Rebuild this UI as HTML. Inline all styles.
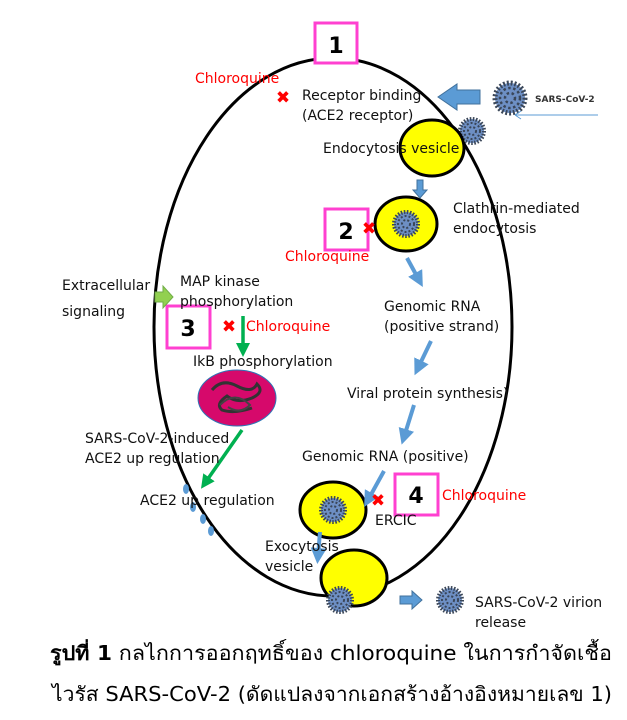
<!DOCTYPE html>
<html><head><meta charset="utf-8"><style>
html,body{margin:0;padding:0;background:#fff;width:627px;height:720px;overflow:hidden}
svg text{font-family:"DejaVu Sans","Liberation Sans",sans-serif}
</style></head><body>
<svg width="627" height="720" viewBox="0 0 627 720" xmlns="http://www.w3.org/2000/svg">
<defs>
<marker id="bh" markerWidth="4" markerHeight="4" refX="2" refY="2" orient="auto" markerUnits="strokeWidth"><path d="M0,0 L4,2 L0,4 z" fill="#5b9bd5"/></marker>
<marker id="gh" markerWidth="4" markerHeight="4" refX="2" refY="2" orient="auto" markerUnits="strokeWidth"><path d="M0,0 L4,2 L0,4 z" fill="#00b050"/></marker>
<g id="v"><circle r="12" fill="#6d8fc4" stroke="#3a4658" stroke-width="4" stroke-dasharray="1.5 1.5"/><circle r="8" fill="none" stroke="#3a4658" stroke-width="2" stroke-dasharray="2 2"/><circle r="4" fill="none" stroke="#3a4658" stroke-width="2" stroke-dasharray="2 2"/></g>
</defs>
<ellipse cx="333" cy="327" rx="179" ry="269" fill="none" stroke="#000" stroke-width="3"/>
<g fill="#fff" stroke="#ff40d0" stroke-width="3">
<rect x="315" y="23" width="42" height="40"/>
<rect x="325" y="209" width="43" height="41"/>
<rect x="167" y="306" width="43" height="42"/>
<rect x="395" y="474" width="43" height="41"/>
</g>
<g font-size="22" font-weight="bold" fill="#000" text-anchor="middle" style="font-family:'Liberation Sans',sans-serif">
<text x="336" y="53">1</text><text x="346" y="239">2</text><text x="188" y="336">3</text><text x="416" y="503">4</text>
</g>
<use href="#v" transform="translate(510 98) scale(1.25)"/>
<text x="535" y="102" font-size="9" font-weight="bold" fill="#333">SARS-CoV-2</text>
<line x1="598" y1="115" x2="515" y2="115" stroke="#5b9bd5" stroke-width="1"/>
<path d="M515,115 l6,-4 M515,115 l6,4" stroke="#5b9bd5" stroke-width="1" fill="none"/>
<path d="M480,90 L457,90 L457,84 L438,97 L457,110 L457,104 L480,104 Z" fill="#5b9bd5" stroke="#41719c" stroke-width="1"/>
<use href="#v" x="472" y="131"/>
<g fill="#ffff00" stroke="#000" stroke-width="3">
<ellipse cx="432" cy="148" rx="32" ry="28"/>
<ellipse cx="406" cy="224" rx="31" ry="27"/>
<ellipse cx="333" cy="510" rx="33" ry="28"/>
<ellipse cx="354" cy="578" rx="33" ry="28"/>
</g>
<use href="#v" x="406" y="224"/>
<use href="#v" x="333" y="510"/>
<use href="#v" x="340" y="600"/>
<use href="#v" x="450" y="600"/>
<path d="M417,180 h6 v10 h4 l-7,8 l-7,-8 h4 z" fill="#5b9bd5" stroke="#41719c"/>
<g stroke="#5b9bd5" stroke-width="4" fill="none" marker-end="url(#bh)">
<line x1="407" y1="258" x2="419" y2="280"/>
<line x1="431" y1="341" x2="418" y2="368"/>
<line x1="414" y1="405" x2="404" y2="437"/>
<line x1="384" y1="471" x2="368" y2="500"/>
<line x1="320" y1="532" x2="318" y2="556"/>
</g>
<path d="M400,596 h12 v-5 l10,9 l-10,9 v-5 h-12 z" fill="#5b9bd5" stroke="#41719c"/>
<path d="M155,292 h8 v-6 l10,11 l-10,11 v-6 h-8 z" fill="#92d050" stroke="#70ad47"/>
<g stroke="#00b050" stroke-width="3.5" fill="none" marker-end="url(#gh)">
<line x1="243" y1="316" x2="243" y2="350"/>
<line x1="242" y1="430" x2="205" y2="483"/>
</g>
<ellipse cx="237" cy="398" rx="39" ry="28" fill="#d6096b" stroke="#2e75b6" stroke-width="1"/>
<path d="M212,390 q10,-12 25,-4 q15,8 20,-2 q8,8 -5,14 q-15,6 -25,-2 q-12,8 -5,14 q12,4 30,-2" stroke="#333" stroke-width="3" fill="none"/>
<path d="M220,405 q15,-15 30,0 q-10,10 -22,2" stroke="#444" stroke-width="2" fill="none"/>
<g fill="#5b9bd5"><ellipse cx="186" cy="489" rx="3" ry="5"/><ellipse cx="193" cy="507" rx="3" ry="5"/><ellipse cx="203" cy="519" rx="3" ry="5"/><ellipse cx="211" cy="531" rx="3" ry="5"/></g>
<g font-size="17" font-weight="bold" fill="#ff0000" text-anchor="middle">
<text x="283" y="103">✖</text><text x="369" y="234">✖</text><text x="229" y="332">✖</text><text x="378" y="506">✖</text>
</g>
<g font-size="14" fill="#ff0000">
<text x="195" y="83">Chloroquine</text>
<text x="285" y="261">Chloroquine</text>
<text x="246" y="331">Chloroquine</text>
<text x="442" y="500">Chloroquine</text>
</g>
<g font-size="14" fill="#111">
<text x="302" y="100">Receptor binding</text>
<text x="302" y="120">(ACE2 receptor)</text>
<text x="323" y="153">Endocytosis vesicle</text>
<text x="453" y="213">Clathrin-mediated</text>
<text x="453" y="233">endocytosis</text>
<text x="384" y="311">Genomic RNA</text>
<text x="384" y="331">(positive strand)</text>
<text x="347" y="398">Viral protein synthesis)</text>
<text x="302" y="461">Genomic RNA (positive)</text>
<text x="375" y="525">ERCIC</text>
<text x="265" y="551">Exocytosis</text>
<text x="265" y="571">vesicle</text>
<text x="475" y="607">SARS-CoV-2 virion</text>
<text x="475" y="627">release</text>
<text x="62" y="290">Extracellular</text>
<text x="62" y="316">signaling</text>
<text x="180" y="286">MAP kinase</text>
<text x="180" y="306">phosphorylation</text>
<text x="193" y="366">IkB phosphorylation</text>
<text x="85" y="443">SARS-CoV-2-induced</text>
<text x="85" y="463">ACE2 up regulation</text>
<text x="140" y="505">ACE2 up regulation</text>
</g>
<text x="50" y="660" font-size="20" fill="#000" textLength="562" lengthAdjust="spacingAndGlyphs"><tspan font-weight="bold">รูปที่ 1</tspan> กลไกการออกฤทธิ์ของ chloroquine ในการกำจัดเชื้อ</text>
<text x="52" y="701" font-size="20" fill="#000" textLength="560" lengthAdjust="spacingAndGlyphs">ไวรัส SARS-CoV-2 (ดัดแปลงจากเอกสร้างอ้างอิงหมายเลข 1)</text>
</svg>
</body></html>
